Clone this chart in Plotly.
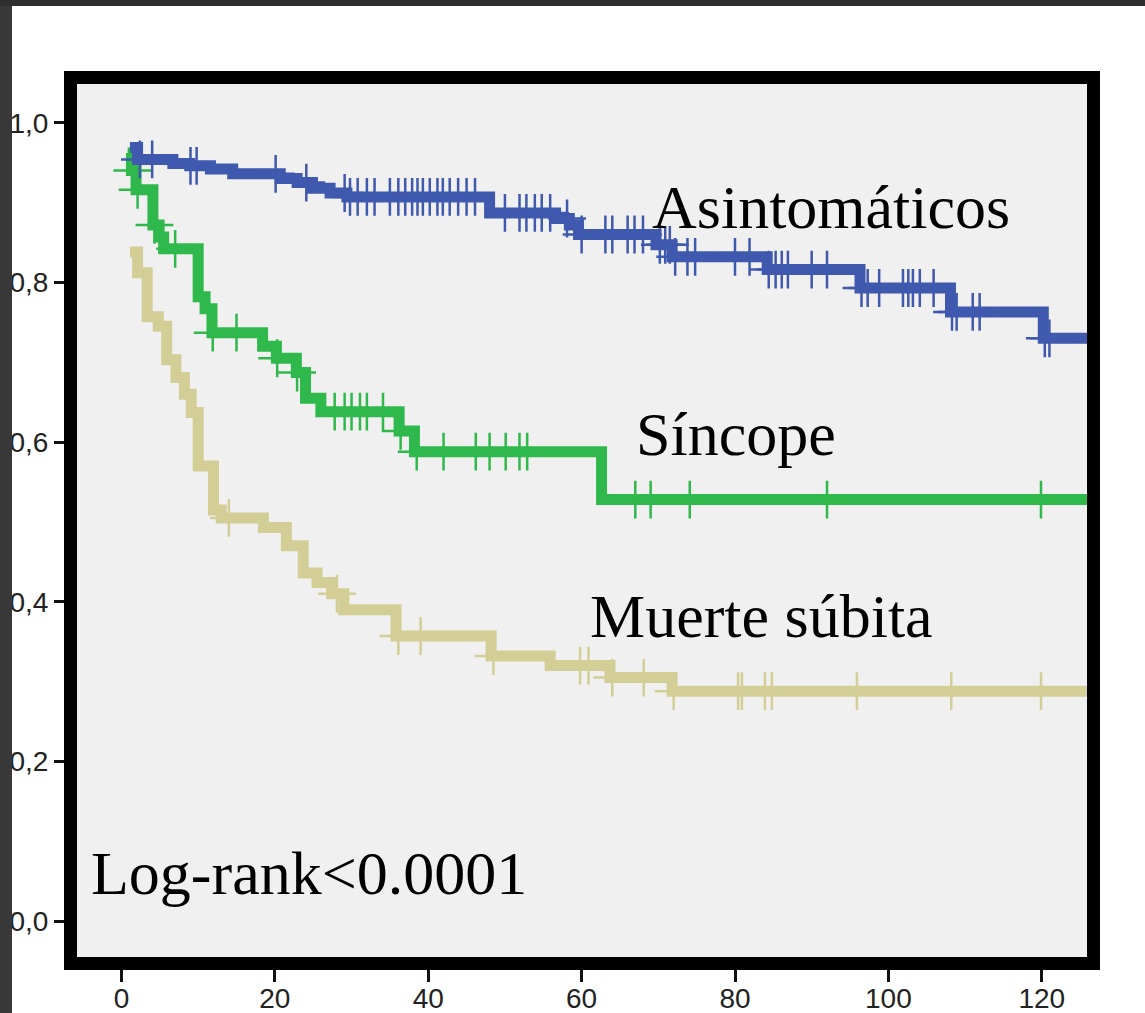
import numpy as np
import plotly.graph_objects as go

# ---------------- data ----------------
x_ticks = [0, 20, 40, 60, 80, 100, 120]
y_ticks = [0.0, 0.2, 0.4, 0.6, 0.8, 1.0]
y_tick_labels = ["0,0", "0,2", "0,4", "0,6", "0,8", "1,0"]

group_names = ["Asintomáticos", "Síncope", "Muerte súbita"]

# Asintomáticos: step times / survival / censored times
asin_t = [1.1, 2.1, 6.7, 8.9, 11.6, 14.5, 20.7, 22.9, 24.9, 27.2, 29.4, 48.0,
          56.6, 58.4, 59.6, 69.7, 71.8, 84.2, 96.3, 108.1, 120.2, 127.0]
asin_s = [0.969, 0.954, 0.949, 0.946, 0.942, 0.936, 0.930, 0.925, 0.918, 0.912,
          0.907, 0.887, 0.880, 0.872, 0.860, 0.847, 0.832, 0.816, 0.793, 0.763,
          0.730, 0.730]
asin_cens = [2.4, 4.0, 9.0, 9.8, 20.1, 24.1, 29.1, 29.8, 30.8, 32.0, 33.0, 35.0,
             36.1, 37.0, 37.9, 38.6, 39.3, 40.2, 41.2, 41.9, 42.8, 43.9, 45.0,
             46.1, 50.0, 51.9, 52.8, 53.9, 54.8, 55.9, 58.1, 60.0, 63.1, 64.0,
             66.0, 66.9, 68.0, 70.2, 70.9, 71.5, 72.2, 73.8, 74.8, 80.0, 81.9,
             84.4, 85.3, 86.1, 86.9, 90.0, 92.0, 96.5, 97.3, 98.8, 101.9, 102.6,
             103.2, 104.1, 105.9, 108.3, 108.9, 111.0, 111.9, 120.4, 121.0]

# Síncope
sinc_t = [0.8, 1.3, 1.9, 4.1, 4.9, 5.5, 10.0, 10.9, 11.8, 18.4, 20.2, 22.8,
          24.0, 26.0, 36.2, 38.2, 62.6, 127.0]
sinc_s = [0.962, 0.940, 0.916, 0.872, 0.857, 0.842, 0.782, 0.767, 0.737, 0.720,
          0.705, 0.687, 0.655, 0.638, 0.614, 0.588, 0.528, 0.528]
sinc_cens = [1.4, 2.1, 4.3, 7.0, 11.9, 15.0, 20.3, 22.9, 27.8, 29.1, 30.0, 31.1,
             32.0, 34.1, 36.4, 38.5, 42.0, 46.2, 48.0, 50.1, 51.9, 52.9, 67.0,
             69.0, 74.1, 92.0, 119.9]

# Muerte súbita
muer_t = [1.1, 2.1, 3.35, 4.8, 5.9, 7.1, 8.2, 9.1, 10.0, 12.0, 13.0, 18.5,
          21.5, 23.7, 25.5, 27.4, 29.0, 35.8, 48.2, 55.9, 63.7, 71.8, 127.0]
muer_s = [0.838, 0.812, 0.757, 0.745, 0.703, 0.681, 0.660, 0.637, 0.570, 0.515,
          0.505, 0.493, 0.470, 0.436, 0.424, 0.410, 0.390, 0.357, 0.332, 0.320,
          0.305, 0.288, 0.288]
muer_cens = [14.0, 28.1, 36.1, 39.0, 48.5, 59.8, 60.9, 64.0, 68.1, 72.0, 80.4,
             80.9, 83.9, 84.8, 95.9, 108.2, 119.9]

colors = {"Asintomáticos": "#3f59ae", "Síncope": "#2fb84b", "Muerte súbita": "#d3ce96"}

series = {
    "Asintomáticos": (asin_t, asin_s, asin_cens),
    "Síncope": (sinc_t, sinc_s, sinc_cens),
    "Muerte súbita": (muer_t, muer_s, muer_cens),
}


def step_value(ts, ss, c):
    i = int(np.searchsorted(np.array(ts), c, side="right")) - 1
    return ss[max(i, 0)]


# ---------------- figure ----------------
W, H = 1145, 1013
ML, MR, MT, MB = 77, 58, 84, 56
PW, PH = W - ML - MR, H - MT - MB


def px_x(px):
    return (px - ML) / PW


def px_y(py):
    return (H - MB - py) / PH


fig = go.Figure()

for name in ["Muerte súbita", "Síncope", "Asintomáticos"]:
    ts, ss, cs = series[name]
    col = colors[name]
    fig.add_trace(go.Scatter(
        x=ts, y=ss, mode="lines", line=dict(color=col, width=11, shape="hv"),
        showlegend=False, hoverinfo="skip"))
    fig.add_trace(go.Scatter(
        x=cs, y=[step_value(ts, ss, c) for c in cs], mode="markers",
        marker=dict(symbol="cross-thin", size=27, color=col,
                    line=dict(color=col, width=2.5)),
        showlegend=False, hoverinfo="skip"))

label_font = dict(family="Liberation Serif, Times New Roman, serif", size=62, color="black")
labels = [
    ("Asintomáticos", 650, 207),
    ("Síncope", 634, 434),
    ("Muerte súbita", 588, 616),
    ("Log-rank<0.0001", 89, 873),
]
for txt, lx, ly in labels:
    fig.add_annotation(text=txt, x=px_x(lx), y=px_y(ly), xref="paper", yref="paper",
                       xanchor="left", yanchor="middle", showarrow=False, font=label_font)

# dark frame of the screenshot (top and left strips)
fig.add_shape(type="rect", xref="paper", yref="paper", x0=px_x(-20), x1=px_x(12),
              y0=px_y(H + 20), y1=px_y(-20), fillcolor="#383838", line=dict(width=0), layer="above")
fig.add_shape(type="rect", xref="paper", yref="paper", x0=px_x(-20), x1=px_x(W + 20),
              y0=px_y(6), y1=px_y(-20), fillcolor="#2e2e2e", line=dict(width=0), layer="above")

tickfont = dict(family="Liberation Sans, Arial, sans-serif", size=28, color="#222222")
axis_common = dict(showgrid=False, zeroline=False, showline=True, linewidth=13,
                   linecolor="black", mirror=True, ticks="outside",
                   tickwidth=2.5, tickcolor="#111111", tickfont=tickfont,
                   fixedrange=True, automargin=False)

fig.update_layout(
    width=W, height=H,
    margin=dict(l=ML, r=MR, t=MT, b=MB, pad=0, autoexpand=False),
    paper_bgcolor="white", plot_bgcolor="#f0f0f0",
    xaxis=dict(range=[-5.8, 125.9], tickvals=x_ticks, ticklen=12, ticklabelstandoff=-8,
               ticktext=[str(v) for v in x_ticks], **axis_common),
    yaxis=dict(range=[-0.045, 1.0485], tickvals=y_ticks, ticktext=y_tick_labels,
               ticklen=10, **axis_common),
)

fig.write_html("out.html")
